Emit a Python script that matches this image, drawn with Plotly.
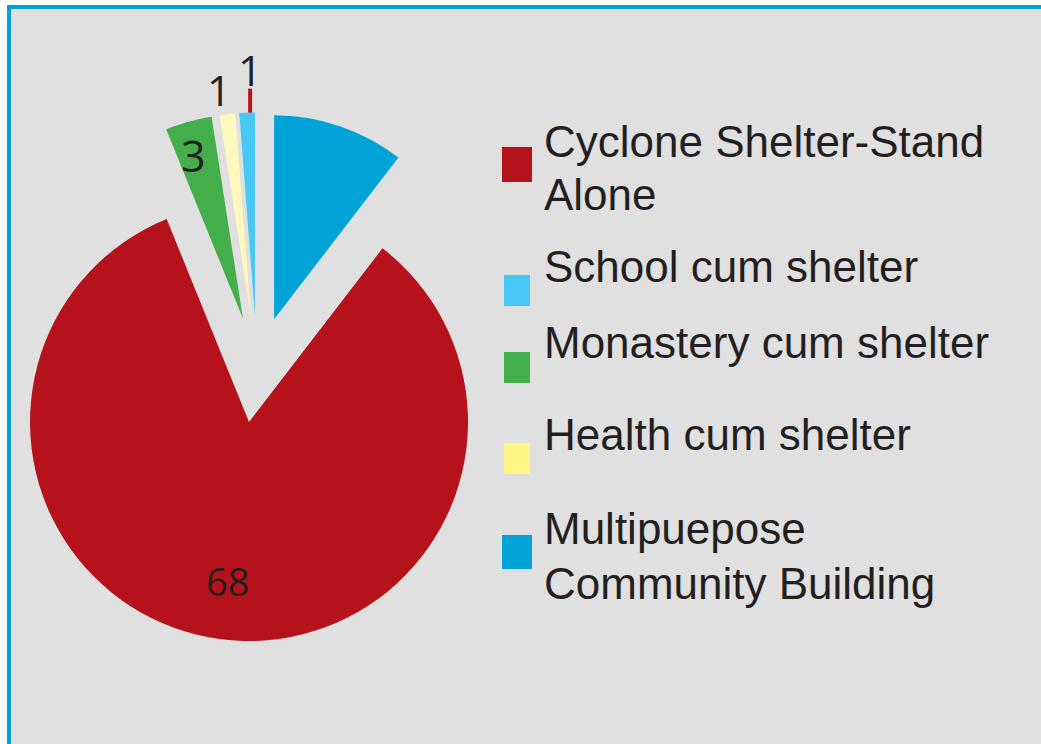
import math
import plotly.graph_objects as go

# ---- data -------------------------------------------------------------
categories = [
    "Cyclone Shelter-Stand Alone",
    "School cum shelter",
    "Monastery cum shelter",
    "Health cum shelter",
    "Multipuepose Community Building",
]
counts = [68, 1, 3, 1, 8.5]
value_labels = ["68", "1", "3", "1", ""]
legend_lines = [
    ["Cyclone Shelter-Stand", "Alone"],
    ["School cum shelter"],
    ["Monastery cum shelter"],
    ["Health cum shelter"],
    ["Multipuepose", "Community Building"],
]

# ---- style ------------------------------------------------------------
slice_colors = ["#b5121b", "#48c8f5", "#43ae4a", "#fff9bd", "#00a3d8"]
legend_colors = ["#b5121b", "#48c8f5", "#43ae4a", "#fff685", "#00a3d8"]
frame_blue = "#00a3d8"
panel_grey = "#e0e0e0"
text_color = "#231f20"

W, H = 1041, 744

# clockwise order of the slices, the big red one first
pie_order = [0, 2, 3, 1, 4]

# big slice: its own circle; small slices: a smaller circle, pulled out
big_cx, big_cy, big_r = 249.0, 422.0, 219.0
small_r, small_pull = 204.0, 0.26
small_cx, small_cy = small_r * (1 + small_pull), 369.5

# label placement (fraction of radius along the slice bisector),
# a small sideways nudge in px, and font size
label_frac = [0.732, 1.21, 0.828, 1.123, None]
label_dx = [0, 3, -4, -5, 0]
label_size = [38, 42, 43, 42, 42]
leader = [False, True, False, False, False]

# legend rows: swatch box (x0, y0, x1, y1) in px and text line centres in px
swatch_boxes = [
    (502, 147, 532, 182),
    (504, 275, 530, 306),
    (504, 352, 530, 383),
    (504, 443, 530, 474),
    (502, 535, 532, 569),
]
line_centres = [[141.8, 194.8], [266.5], [342.8], [434.8], [528.1, 583.1]]
legend_text_x = 542


def px(x):
    return x / W


def py(y):
    return 1 - y / H


def domain_for(cx, cy, r, max_pull):
    half = r * (1 + max_pull)
    return dict(
        x=[max(0.0, (cx - half) / W), min(1.0, (cx + half) / W)],
        y=[max(0.0, 1 - (cy + half) / H), min(1.0, 1 - (cy - half) / H)],
    )


total = sum(counts)
rotation = 360.0 * counts[pie_order[-1]] / total

# bisector angle of each slice (degrees clockwise from 12 o'clock)
mid_angle = {}
start = rotation
for i in pie_order:
    span = 360.0 * counts[i] / total
    mid_angle[i] = start + span / 2
    start += span

values = [counts[i] for i in pie_order]
labels = [categories[i] for i in pie_order]
transparent = "rgba(0,0,0,0)"

fig = go.Figure()

fig.add_trace(go.Pie(
    values=values,
    labels=labels,
    sort=False,
    direction="clockwise",
    rotation=rotation,
    marker=dict(colors=[slice_colors[i] if i == 0 else transparent for i in pie_order],
                line=dict(width=0)),
    textinfo="none",
    hoverinfo="label+value",
    showlegend=False,
    domain=domain_for(big_cx, big_cy, big_r, 0.0),
))

fig.add_trace(go.Pie(
    values=values,
    labels=labels,
    sort=False,
    direction="clockwise",
    rotation=rotation,
    pull=[0 if i == 0 else small_pull for i in pie_order],
    marker=dict(colors=[transparent if i == 0 else slice_colors[i] for i in pie_order],
                line=dict(width=0)),
    textinfo="none",
    hoverinfo="label+value",
    showlegend=False,
    domain=domain_for(small_cx, small_cy, small_r, small_pull),
))


def slice_point(i, frac):
    a = math.radians(mid_angle[i])
    if i == 0:
        ox, oy, r = big_cx, big_cy, big_r
    else:
        r = small_r
        ox = small_cx + small_pull * r * math.sin(a)
        oy = small_cy - small_pull * r * math.cos(a)
    return ox + frac * r * math.sin(a), oy - frac * r * math.cos(a)


shapes = [
    # panel frame
    dict(type="rect", xref="paper", yref="paper", layer="below",
         x0=px(7), x1=1.02, y0=-0.02, y1=py(5),
         fillcolor=frame_blue, line=dict(width=0)),
    dict(type="rect", xref="paper", yref="paper", layer="below",
         x0=px(11), x1=1.02, y0=-0.02, y1=py(9),
         fillcolor=panel_grey, line=dict(width=0)),
]

annotations = []

# value labels on / above the slices
for i, txt in enumerate(value_labels):
    if not txt or label_frac[i] is None:
        continue
    x, y = slice_point(i, label_frac[i])
    if leader[i]:
        lx, ly = slice_point(i, 1.0)
        x = lx + label_dx[i]
        shapes.append(dict(type="line", xref="paper", yref="paper",
                           x0=px(x), x1=px(x), y0=py(ly), y1=py(ly - 24),
                           line=dict(color=slice_colors[0], width=4)))
    else:
        x += label_dx[i]
    annotations.append(dict(
        x=px(x), y=py(y), xref="paper", yref="paper",
        text=txt, showarrow=False, xanchor="center", yanchor="middle",
        font=dict(family="Open Sans", size=label_size[i], color=text_color),
    ))

# legend
for i, lines in enumerate(legend_lines):
    x0, y0, x1, y1 = swatch_boxes[i]
    shapes.append(dict(type="rect", xref="paper", yref="paper",
                       x0=px(x0), x1=px(x1), y0=py(y1), y1=py(y0),
                       fillcolor=legend_colors[i], line=dict(width=0)))
    for line, yc in zip(lines, line_centres[i]):
        annotations.append(dict(
            x=px(legend_text_x), y=py(yc), xref="paper", yref="paper",
            text=line, showarrow=False, xanchor="left", yanchor="middle",
            font=dict(family="Liberation Sans, Arial", size=44, color=text_color),
        ))

fig.update_layout(
    width=W,
    height=H,
    margin=dict(l=0, r=0, t=0, b=0),
    paper_bgcolor="white",
    plot_bgcolor="white",
    shapes=shapes,
    annotations=annotations,
    showlegend=False,
)

fig.write_html("out.html")
